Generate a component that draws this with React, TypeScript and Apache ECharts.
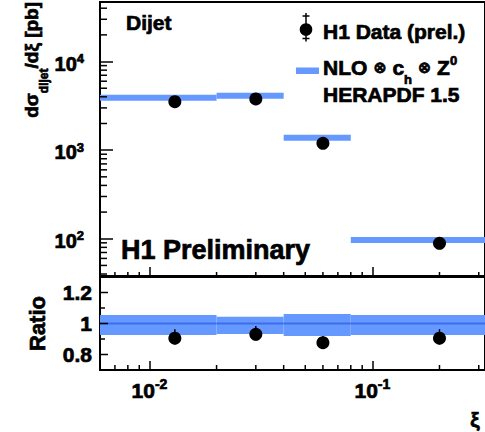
import { useEffect, useRef } from 'react';
import * as echarts from 'echarts';

// ξ bins and measured / predicted dijet cross sections
const BIN_LO = [0.006, 0.02, 0.04, 0.08];
const BIN_HI = [0.02, 0.04, 0.08, 0.32];
const XI = [0.013, 0.03, 0.06, 0.2];
const SIGMA_DATA = [3524, 3780, 1195, 88.9];
const SIGMA_NLO = [3909, 4118, 1382, 96.8];

// data / theory ratio and the NLO uncertainty band
const RATIO_DATA = [0.905, 0.93, 0.876, 0.905];
const RATIO_ERR_UP = [0.058, 0.054, 0.043, 0.058];
const RATIO_ERR_DN = [0.04, 0.04, 0.04, 0.04];
const BAND_HI = [1.055, 1.044, 1.061, 1.055];
const BAND_LO = [0.926, 0.932, 0.919, 0.926];

// axis ranges and ratio tick labels
const X_RANGE = [0.006, 0.32];
const Y_RANGE = [38, 47000];
const RATIO_RANGE = [0.7, 1.3];
const RATIO_MAJOR = [0.8, 1, 1.2];
const RATIO_MINOR = [0.9, 1.1];

const FONT = '"Liberation Sans", Arial, Helvetica, sans-serif';
const SYMBOL_FONT = '"DejaVu Sans", sans-serif';
const BLUE = '#6699ff';
const BLUE_DARK = '#3d6cf0';
const HEAVY = 0.7; // extra outline that thickens the bold glyphs

let measureCtx: CanvasRenderingContext2D | null = null;
function textWidth(text: string, size: number, family = FONT): number {
  if (!measureCtx) measureCtx = document.createElement('canvas').getContext('2d');
  if (!measureCtx) return text.length * size * 0.6;
  measureCtx.font = `bold ${size}px ${family}`;
  return measureCtx.measureText(text).width;
}

function logMinors(lo: number, hi: number): number[] {
  const out: number[] = [];
  for (let k = Math.floor(Math.log10(lo)); k <= Math.ceil(Math.log10(hi)); k++) {
    for (let m = 2; m <= 9; m++) {
      const v = m * Math.pow(10, k);
      if (v > lo && v < hi) out.push(v);
    }
  }
  return out;
}

function expLabel(v: number): string {
  const e = Math.log10(v);
  const r = Math.round(e);
  if (Math.abs(e - r) > 1e-6) return '';
  return `{b|10}{s|${r}}`;
}

function tickSeries(gi: number, axis: 'x' | 'y', values: number[], len: number, anchor: number) {
  return {
    type: 'custom',
    xAxisIndex: gi,
    yAxisIndex: gi,
    silent: true,
    z: 6,
    data: values.map((v) => (axis === 'x' ? [v, anchor] : [anchor, v])),
    renderItem: (params: any, api: any) => {
      const p = api.coord([api.value(0), api.value(1)]);
      const cs = params.coordSys;
      const shape =
        axis === 'x'
          ? { x1: p[0], y1: cs.y + cs.height, x2: p[0], y2: cs.y + cs.height - len }
          : { x1: cs.x, y1: p[1], x2: cs.x + len, y2: p[1] };
      return { type: 'line', shape, style: { stroke: '#000', lineWidth: 1.5 } };
    },
  };
}

// bold text element for the graphic component
function label(text: string, x: number, y: number, size: number, align = 'left', extra: any = {}, family = FONT) {
  return {
    type: 'text', x, y, ...extra,
    style: {
      text, fontSize: size, fontWeight: 'bold', fontFamily: family, fill: '#000',
      stroke: '#000', lineWidth: HEAVY, align, verticalAlign: 'middle',
    },
  };
}

type Piece = { t: string; size: number; dy: number; family?: string };

// pieces laid out one after another (baseline shifts for sub/superscripts);
// a blank piece only advances the pen
function runOfText(parts: Piece[], x0: number, y0: number) {
  let x = x0;
  const out: any[] = [];
  parts.forEach((p) => {
    const fam = p.family || FONT;
    if (p.t.trim() !== '') out.push(label(p.t, x, y0 + p.dy, p.size, 'left', {}, fam));
    x += textWidth(p.t, p.size, fam);
  });
  return out;
}

export default function App() {
  const ref = useRef<HTMLDivElement>(null);

  useEffect(() => {
    if (!ref.current) return;
    const chart = echarts.init(ref.current, undefined, { renderer: 'svg' });

    const xMinor = logMinors(X_RANGE[0], X_RANGE[1]);
    const yMinor = logMinors(Y_RANGE[0], Y_RANGE[1]);

    const tickStyle = { color: '#000', width: 1.5 };
    const heavyTok = { textBorderColor: '#000', textBorderWidth: HEAVY };
    const xRich = {
      b: { fontSize: 21, fontWeight: 'bold', fontFamily: FONT, color: '#000', height: 24, lineHeight: 24, verticalAlign: 'bottom', ...heavyTok },
      s: { fontSize: 14, fontWeight: 'bold', fontFamily: FONT, color: '#000', height: 11, lineHeight: 11, verticalAlign: 'top', ...heavyTok },
    };
    const yRich = {
      b: { fontSize: 20, fontWeight: 'bold', fontFamily: FONT, color: '#000', height: 22, lineHeight: 22, verticalAlign: 'bottom', ...heavyTok },
      s: { fontSize: 13, fontWeight: 'bold', fontFamily: FONT, color: '#000', height: 12, lineHeight: 12, verticalAlign: 'top', ...heavyTok },
    };

    // y-axis title, written along a rotated group
    const titleParts: Piece[] = [
      { t: 'dσ', size: 19, dy: 0 },
      { t: 'dijet', size: 12, dy: 13 },
      { t: '/dξ [pb]', size: 19, dy: 0 },
    ];
    const titleLen = titleParts.reduce((s, p) => s + textWidth(p.t, p.size), 0);
    const titleTop = 2;

    const otimes: Piece = { t: '⊗', size: 16, dy: 0, family: SYMBOL_FONT };
    const gap: Piece = { t: ' ', size: 21, dy: 0 };

    const option: any = {
      animation: false,
      backgroundColor: '#fff',
      grid: [
        { left: 100, top: 2, width: 390, height: 274, show: true, borderColor: '#000', borderWidth: 2, backgroundColor: 'transparent' },
        { left: 100, top: 277, width: 390, height: 93, show: true, borderColor: '#000', borderWidth: 2, backgroundColor: 'transparent' },
      ],
      xAxis: [
        {
          type: 'log', gridIndex: 0, min: X_RANGE[0], max: X_RANGE[1], logBase: 10,
          axisLine: { show: false }, splitLine: { show: false },
          axisTick: { show: true, inside: true, length: 9, lineStyle: tickStyle },
          axisLabel: { show: false },
        },
        {
          type: 'log', gridIndex: 1, min: X_RANGE[0], max: X_RANGE[1], logBase: 10,
          axisLine: { show: false }, splitLine: { show: false },
          axisTick: { show: true, inside: true, length: 9, lineStyle: tickStyle },
          axisLabel: { show: true, margin: 8, formatter: expLabel, rich: xRich, showMinLabel: false, showMaxLabel: false },
        },
      ],
      yAxis: [
        {
          type: 'log', gridIndex: 0, min: Y_RANGE[0], max: Y_RANGE[1], logBase: 10,
          axisLine: { show: false }, splitLine: { show: false },
          axisTick: { show: true, inside: true, length: 13, lineStyle: tickStyle },
          axisLabel: { show: true, margin: 16, formatter: expLabel, rich: yRich, padding: [4, 0, 0, 0], showMinLabel: false, showMaxLabel: false },
        },
        {
          type: 'value', gridIndex: 1, min: RATIO_RANGE[0], max: RATIO_RANGE[1], interval: 0.1,
          axisLine: { show: false }, splitLine: { show: false },
          axisTick: { show: false },
          axisLabel: {
            show: true, margin: 8, color: '#000', fontSize: 21, fontWeight: 'bold', fontFamily: FONT,
            textBorderColor: '#000', textBorderWidth: HEAVY,
            formatter: (v: number) => {
              const hit = RATIO_MAJOR.find((t) => Math.abs(t - v) < 1e-6);
              return hit === undefined ? '' : String(hit);
            },
          },
        },
      ],
      series: [
        // NLO prediction, one horizontal bar per ξ bin
        {
          type: 'custom', xAxisIndex: 0, yAxisIndex: 0, z: 2, silent: true,
          data: BIN_LO.map((lo, i) => [lo, BIN_HI[i], SIGMA_NLO[i]]),
          encode: { x: [0, 1], y: 2 },
          renderItem: (_p: any, api: any) => {
            const a = api.coord([api.value(0), api.value(2)]);
            const b = api.coord([api.value(1), api.value(2)]);
            return { type: 'rect', shape: { x: a[0], y: a[1] - 3, width: b[0] - a[0], height: 6 }, style: { fill: BLUE } };
          },
        },
        {
          type: 'scatter', xAxisIndex: 0, yAxisIndex: 0, z: 4, symbol: 'circle', symbolSize: 13,
          itemStyle: { color: '#000', opacity: 1 },
          data: XI.map((x, i) => [x, SIGMA_DATA[i]]),
        },
        // ratio panel: NLO uncertainty band with its centre line
        {
          type: 'custom', xAxisIndex: 1, yAxisIndex: 1, z: 2, silent: true,
          data: BIN_LO.map((lo, i) => [lo, BIN_HI[i], BAND_LO[i], BAND_HI[i]]),
          encode: { x: [0, 1], y: [2, 3] },
          renderItem: (_p: any, api: any) => {
            const a = api.coord([api.value(0), api.value(3)]);
            const b = api.coord([api.value(1), api.value(2)]);
            const c = api.coord([api.value(0), 1]);
            const d = api.coord([api.value(1), 1]);
            return {
              type: 'group',
              children: [
                { type: 'rect', shape: { x: a[0], y: a[1], width: b[0] - a[0], height: b[1] - a[1] }, style: { fill: BLUE } },
                { type: 'line', shape: { x1: c[0], y1: c[1], x2: d[0], y2: d[1] }, style: { stroke: BLUE_DARK, lineWidth: 2 } },
              ],
            };
          },
        },
        {
          type: 'custom', xAxisIndex: 1, yAxisIndex: 1, z: 3, silent: true,
          data: XI.map((x, i) => [x, RATIO_DATA[i] - RATIO_ERR_DN[i], RATIO_DATA[i] + RATIO_ERR_UP[i]]),
          encode: { x: 0, y: [1, 2] },
          renderItem: (_p: any, api: any) => {
            const a = api.coord([api.value(0), api.value(1)]);
            const b = api.coord([api.value(0), api.value(2)]);
            return { type: 'line', shape: { x1: a[0], y1: a[1], x2: b[0], y2: b[1] }, style: { stroke: '#000', lineWidth: 1.5 } };
          },
        },
        {
          type: 'scatter', xAxisIndex: 1, yAxisIndex: 1, z: 4, symbol: 'circle', symbolSize: 13,
          itemStyle: { color: '#000', opacity: 1 },
          data: XI.map((x, i) => [x, RATIO_DATA[i]]),
        },
        // minor ticks
        tickSeries(0, 'x', xMinor, 4, Y_RANGE[0]),
        tickSeries(0, 'y', yMinor, 7, X_RANGE[0]),
        tickSeries(1, 'x', xMinor, 5, RATIO_RANGE[0]),
        tickSeries(1, 'y', RATIO_MAJOR, 8, X_RANGE[0]),
        tickSeries(1, 'y', RATIO_MINOR, 5, X_RANGE[0]),
      ],
      graphic: [
        label('Dijet', 126, 22.5, 21),
        label('H1 Preliminary', 121, 250, 27),
        // legend: data marker with error bar
        { type: 'line', shape: { x1: 306, y1: 13, x2: 306, y2: 41.5 }, style: { stroke: '#000', lineWidth: 1.5 } },
        { type: 'line', shape: { x1: 302.5, y1: 16, x2: 309.5, y2: 16 }, style: { stroke: '#000', lineWidth: 1.5 } },
        { type: 'line', shape: { x1: 302.5, y1: 38.5, x2: 309.5, y2: 38.5 }, style: { stroke: '#000', lineWidth: 1.5 } },
        { type: 'circle', shape: { cx: 306, cy: 29.5, r: 6.3 }, style: { fill: '#000' } },
        label('H1 Data (prel.)', 323, 31, 21),
        // legend: NLO line sample
        { type: 'rect', shape: { x: 296, y: 67.5, width: 23, height: 6.5 }, style: { fill: BLUE } },
        ...runOfText(
          [
            { t: 'NLO', size: 21, dy: 0 },
            gap, otimes, gap,
            { t: 'c', size: 21, dy: 0 },
            { t: 'h', size: 13, dy: 12 },
            gap, otimes, gap,
            { t: 'Z', size: 21, dy: 0 },
            { t: '0', size: 13, dy: -7 },
          ],
          323, 67,
        ),
        label('HERAPDF 1.5', 323, 94.5, 21),
        // axis titles
        {
          type: 'group', x: 31, y: titleTop + titleLen / 2, rotation: Math.PI / 2,
          children: runOfText(titleParts, -titleLen / 2, 0),
        },
        label('Ratio', 37.5, 323.5, 22, 'center', { rotation: Math.PI / 2 }),
        label('ξ', 475, 419, 21, 'center'),
      ],
    };

    chart.setOption(option);
    return () => chart.dispose();
  }, []);

  return (
    <div
      ref={ref}
      style={{ position: 'fixed', left: 0, top: 0, width: 485, height: 432, background: '#fff' }}
    />
  );
}
